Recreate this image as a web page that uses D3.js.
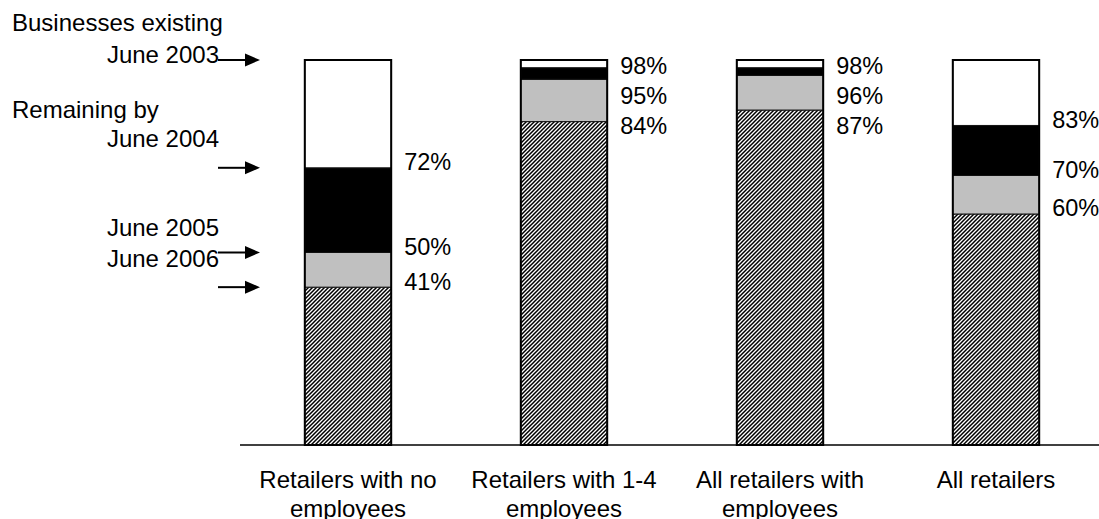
<!DOCTYPE html>
<html>
<head>
<meta charset="utf-8">
<script src="https://cdn.jsdelivr.net/npm/d3@7"></script>
<style>
  html, body { margin: 0; padding: 0; background: #fff; }
  svg { display: block; }
  text { font-family: "Liberation Sans", Arial, sans-serif; fill: #000; }
</style>
</head>
<body>
<svg id="chart" width="1099" height="519"></svg>
<script>
// Share of retail businesses existing in June 2003 that remain in later years (%)
const categories = [
  "Retailers with no\nemployees",
  "Retailers with 1-4\nemployees",
  "All retailers with\nemployees",
  "All retailers"
];
const existing2003  = [100, 100, 100, 100];
const remaining2004 = [72, 98, 98, 83];
const remaining2005 = [50, 95, 96, 70];
const remaining2006 = [41, 84, 87, 60];

// Callout texts on the left
const calloutLines = [
  { text: "Businesses existing", anchor: "start", x: 12,  y: 31 },
  { text: "June 2003",           anchor: "end",   x: 219, y: 63 },
  { text: "Remaining by",        anchor: "start", x: 12,  y: 118 },
  { text: "June 2004",           anchor: "end",   x: 219, y: 147 },
  { text: "June 2005",           anchor: "end",   x: 219, y: 236 },
  { text: "June 2006",           anchor: "end",   x: 219, y: 267 }
];

const svg = d3.select("#chart");
const W = 1099, H = 519;
const plot = { left: 240, right: 1104, top: 60, bottom: 445 };
const FONT = 24;
const LABEL_FONT = 23.5;

const x = d3.scaleBand()
  .domain(categories)
  .range([plot.left, plot.right])
  .paddingInner(0.6)
  .paddingOuter(0.3);

const y = d3.scaleLinear()
  .domain([0, 100])
  .range([plot.bottom, plot.top]);

// Diagonal hatch fill for the businesses still trading in June 2006
const defs = svg.append("defs");
const hatch = defs.append("pattern")
  .attr("id", "hatch")
  .attr("patternUnits", "userSpaceOnUse")
  .attr("width", 4).attr("height", 4);
hatch.append("rect").attr("width", 4).attr("height", 4).attr("fill", "#fff");
hatch.append("path")
  .attr("d", "M-1,1 L1,-1 M0,4 L4,0 M3,5 L5,3")
  .attr("stroke", "#000")
  .attr("stroke-width", 1.5);

// Stack each bar from bottom to top
const rows = categories.map((c, i) => ({
  cat: c,
  segs: [
    { lo: 0,                 hi: remaining2006[i], fill: "url(#hatch)" },
    { lo: remaining2006[i],  hi: remaining2005[i], fill: "#c0c0c0" },
    { lo: remaining2005[i],  hi: remaining2004[i], fill: "#000" },
    { lo: remaining2004[i],  hi: existing2003[i],  fill: "#fff" }
  ],
  labels: [remaining2004[i], remaining2005[i], remaining2006[i]],
  top: existing2003[i]
}));

// Baseline
svg.append("line")
  .attr("x1", plot.left).attr("x2", W)
  .attr("y1", plot.bottom).attr("y2", plot.bottom)
  .attr("stroke", "#000").attr("stroke-width", 1.5);

const bars = svg.append("g").selectAll("g")
  .data(rows).join("g");

bars.selectAll("rect.seg")
  .data(d => d.segs.map(s => ({ ...s, cat: d.cat })))
  .join("rect")
  .attr("class", "seg")
  .attr("x", d => x(d.cat))
  .attr("width", x.bandwidth())
  .attr("y", d => y(d.hi))
  .attr("height", d => y(d.lo) - y(d.hi))
  .attr("fill", d => d.fill)
  .attr("stroke", "#111")
  .attr("stroke-width", 1);

bars.append("rect")
  .attr("x", d => x(d.cat))
  .attr("width", x.bandwidth())
  .attr("y", d => y(d.top))
  .attr("height", d => y(0) - y(d.top))
  .attr("fill", "none")
  .attr("stroke", "#000")
  .attr("stroke-width", 2);

// Percentage labels beside each bar, nudged apart so they never collide
const GAP = 30;
bars.each(function (d) {
  const g = d3.select(this);
  const minY = y(d.top) + 6;
  let prev = -Infinity;
  d.labels.forEach(v => {
    let cy = Math.max(y(v) - 6, minY, prev + GAP);
    prev = cy;
    g.append("text")
      .attr("x", x(d.cat) + x.bandwidth() + 13)
      .attr("y", cy + LABEL_FONT * 0.36)
      .attr("font-size", LABEL_FONT)
      .text(v + "%");
  });
});

// Category labels under the baseline
svg.append("g").selectAll("text")
  .data(categories).join("text")
  .attr("text-anchor", "middle")
  .attr("font-size", FONT)
  .attr("transform", d => `translate(${x(d) + x.bandwidth() / 2},488)`)
  .each(function (d) {
    const t = d3.select(this);
    d.split("\n").forEach((line, k) => {
      t.append("tspan")
        .attr("x", 0)
        .attr("y", k * 29)
        .text(line);
    });
  });

// Callout texts and arrows pointing at the first bar's levels
svg.append("g").selectAll("text")
  .data(calloutLines).join("text")
  .attr("x", d => d.x).attr("y", d => d.y)
  .attr("text-anchor", d => d.anchor)
  .attr("font-size", FONT)
  .text(d => d.text);

const arrowLevels = [existing2003[0], remaining2004[0], remaining2005[0], remaining2006[0]];
const arrows = svg.append("g").selectAll("g")
  .data(arrowLevels).join("g")
  .attr("transform", d => `translate(0,${y(d)})`);
arrows.append("line")
  .attr("x1", 218).attr("x2", 248)
  .attr("y1", 0).attr("y2", 0)
  .attr("stroke", "#000").attr("stroke-width", 2);
arrows.append("path")
  .attr("d", "M245,-6.5 L260,0 L245,6.5 Z")
  .attr("fill", "#000");
</script>
</body>
</html>
